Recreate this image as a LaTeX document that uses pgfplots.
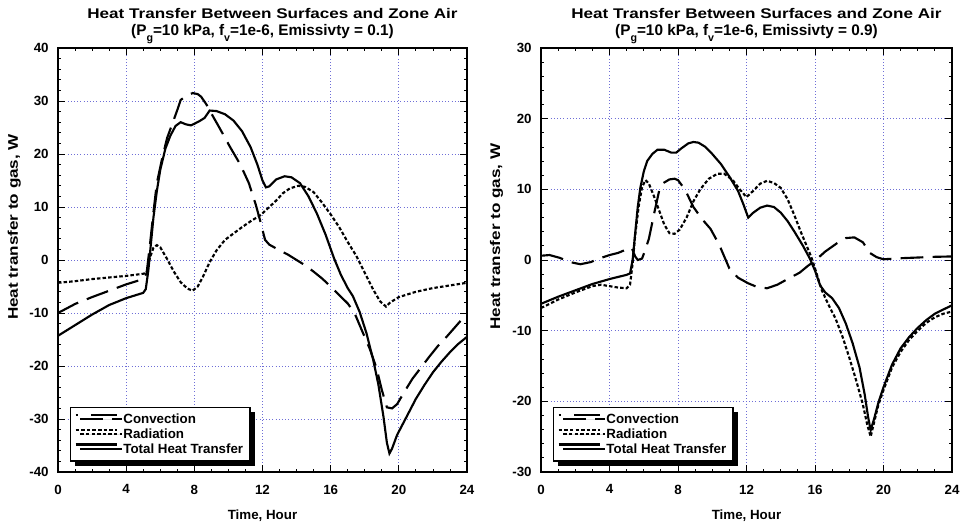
\documentclass[border=0pt]{standalone}
\usepackage{pgfplots}
\pgfplotsset{compat=1.18}
\usepackage{fontspec}
\setmainfont[FakeStretch=1.22]{Liberation Sans}
\newfontfamily\plainsans{Liberation Sans}
\usetikzlibrary{shadows}
\definecolor{gridblue}{RGB}{110,110,215}
\newcommand{\sub}[1]{\raisebox{-4.5pt}{\fontsize{8}{8}\selectfont #1}}
\newcommand{\heattitle}[1]{\hspace*{15pt}Heat Transfer Between Surfaces and Zone Air\\
  {\plainsans\fontsize{11.5}{12.5}\selectfont\bfseries (P\sub{g}=10 kPa, f\sub{v}=1e-6, Emissivty = #1)}}

\pgfplotsset{
  heatax/.style={
    scale only axis,
    anchor=south west,
    height=318pt,
    xmin=0, xmax=24,
    xtick={0,4,...,24},
    minor x tick num=3,
    minor y tick num=4,
    tick pos=both,
    tick align=inside,
    major tick length=5pt,
    minor tick length=2.5pt,
    every tick/.style={black, line width=0.6pt},
    axis line style={line width=1.1pt},
    grid=major,
    major grid style={gridblue, dotted, line width=0.7pt},
    font=\fontsize{10.5}{12}\selectfont\bfseries,
    /pgf/number format/assume math mode=true,
    ticklabel style={font=\plainsans\fontsize{10}{12}\selectfont\bfseries},
    xticklabel style={yshift=-6pt},
    yticklabel style={xshift=-3.5pt},
    title style={align=center, font=\fontsize{10.5}{12.5}\selectfont\bfseries, yshift=-6pt},
    xlabel={Time, Hour},
    ylabel={Heat transfer to gas, W},
    xlabel style={yshift=-5pt, font=\plainsans\fontsize{10}{12}\selectfont\bfseries},
    legend cell align=left,
    legend style={
      at={(rel axis cs:0.029,0.024)}, anchor=south west,
      draw=black, line width=1.1pt, fill=white,
      font=\plainsans\fontsize{10}{11}\selectfont\bfseries,
      inner xsep=3pt, inner ysep=2.5pt, row sep=-1.6pt,
      drop shadow={shadow xshift=3.5pt, shadow yshift=-3.5pt, opacity=1, fill=black},
    },
    legend image code/.code={\draw[#1] (0pt,3.6pt) -- (31pt,3.6pt); \path (33pt,3.6pt);},
  },
  conv/.style={black, line width=1.6pt, dash pattern=on 17pt off 7pt,
    legend image code/.code={\draw[#1, dash pattern=on 1.5pt off 10pt on 20pt off 60pt] (0pt,3.6pt) -- (31pt,3.6pt); \path (33pt,3.6pt);}},
  rad/.style={black, line width=1.6pt, dash pattern=on 2.6pt off 1.6pt},
  tot/.style={black, line width=1.6pt},
}

\begin{document}
\begin{tikzpicture}
\path[use as bounding box] (0,0) rectangle (720.75pt,397.5pt);

% left: emissivity 0.1
\begin{axis}[heatax,
  at={(43.5pt,43.5pt)},
  width=306.75pt,
  ymin=-40, ymax=40,
  ytick={-40,-30,...,40},
  ylabel style={at={(ticklabel cs:0.578)}, yshift=-0.5pt},
  title={\heattitle{0.1}},
]
\addplot[conv] coordinates {
(0,-10.0) (1,-8.3) (2,-7.0) (3,-5.8) (4,-4.6) (5,-3.6) (5.2,-2.5) (5.4,3) (5.6,9)
(5.8,14.5) (6.1,19) (6.4,23) (6.8,26.5) (7.0,28.3) (7.2,30.2) (7.5,30.9) (7.9,31.5)
(8.2,31.3) (8.4,30.8) (8.7,29.4) (8.9,28.2) (9.5,24.8) (10.1,21.3) (10.7,18.0)
(11.2,14.5) (11.6,10.5) (11.9,7) (12.15,3.8) (12.4,2.9) (12.9,2.0) (13.5,1.0)
(14.0,0.0) (14.5,-1.0) (15.0,-2.2) (15.5,-3.5) (16.0,-5.0) (16.5,-6.6) (17.0,-8.2)
(17.4,-10) (17.9,-13.8) (18.3,-16.8) (18.7,-20.5) (19.0,-24.5) (19.3,-27.8)
(19.6,-28.0) (19.9,-27.2) (20.3,-25) (20.8,-22.4) (21.3,-20.3) (21.8,-18.2)
(22.3,-16.2) (22.8,-14.5) (23.4,-12.3) (24,-10.1)
};
\addlegendentry{Convection}
\addplot[rad] coordinates {
(0,-4.3) (1,-4.0) (2,-3.6) (3,-3.3) (4,-3.0) (5,-2.6) (5.2,-2.4) (5.4,0.5) (5.6,2.3)
(5.8,2.8) (6.0,2.4) (6.4,0.2) (6.8,-2.2) (7.2,-4.2) (7.6,-5.4) (7.9,-5.8) (8.2,-5.0)
(8.5,-3.2) (8.9,-0.4) (9.3,1.8) (9.8,3.8) (10.3,5.0) (10.8,6.2) (11.3,7.3) (11.9,8.5)
(12.4,10.0) (12.8,11.2) (13.2,12.6) (13.6,13.5) (14.1,14.0) (14.5,13.8) (15.0,12.8)
(15.5,10.8) (16.0,8.6) (16.5,6.2) (17.0,3.4) (17.5,0.8) (18.0,-2.4) (18.5,-5.6)
(18.9,-7.8) (19.25,-8.8) (19.5,-8.0) (20.0,-7.0) (21.0,-6.0) (22.0,-5.3) (23.0,-4.8)
(24.0,-4.3)
};
\addlegendentry{Radiation}
\addplot[tot] coordinates {
(0,-14.3) (1,-12.3) (2,-10.3) (3,-8.5) (4,-7.2) (5,-6.2) (5.15,-5.5) (5.3,-2) (5.45,3)
(5.6,8) (5.8,13) (6.0,17) (6.3,21) (6.6,23.5) (6.9,25.3) (7.2,26) (7.5,25.6) (7.8,25.4)
(8.0,25.7) (8.3,26.2) (8.6,26.8) (8.9,28.2) (9.3,28.1) (9.8,27.5) (10.3,26.3)
(10.8,24.3) (11.3,21.3) (11.7,18) (12.0,15) (12.2,13.7) (12.4,13.9) (12.8,15.2)
(13.3,15.8) (13.7,15.6) (14.2,14.5) (14.7,12) (15.2,8.7) (15.7,4.8) (16.2,0.3)
(16.6,-2.8) (17.0,-5.3) (17.3,-6.8) (17.7,-9.8) (18.1,-13.8) (18.5,-18.9) (18.8,-23.5)
(19.1,-29.6) (19.3,-34.5) (19.45,-36.5) (19.6,-35.6) (19.9,-33) (20.5,-29.3)
(21.0,-26.2) (21.5,-23.6) (22.0,-21.2) (22.5,-19.2) (23.0,-17.4) (23.5,-15.8) (24,-14.5)
};
\addlegendentry{Total Heat Transfer}
\end{axis}

% right: emissivity 0.9
\begin{axis}[heatax,
  at={(405.75pt,43.5pt)},
  width=308.25pt,
  ymin=-30, ymax=30,
  ytick={-30,-20,...,30},
  ylabel style={at={(ticklabel cs:0.555)}},
  title={\heattitle{0.9}},
]
\addplot[conv] coordinates {
(0,0.6) (0.5,0.7) (1.1,0.3) (1.7,-0.3) (2.3,-0.6) (2.9,-0.3) (3.4,0.2) (4.0,0.7)
(4.5,1.0) (5.0,1.5) (5.3,1.7) (5.5,0.5) (5.65,0.0) (5.9,0.2) (6.1,1.5) (6.3,3.0)
(6.6,6.5) (6.9,9.8) (7.15,10.9) (7.5,11.4) (7.8,11.5) (8.0,11.3) (8.4,10.0) (8.9,7.5)
(9.4,5.8) (9.9,4.4) (10.4,2.2) (11.0,-1.2) (11.5,-2.5) (12.1,-3.3) (12.6,-3.8)
(13.2,-4.0) (13.8,-3.5) (14.4,-2.7) (15.1,-1.8) (15.6,-0.8) (16.0,-0.1) (16.6,1.2)
(17.3,2.4) (17.8,3.1) (18.3,3.2) (18.8,2.5) (19.2,1.0) (19.6,0.4) (20.0,0.1)
(21.0,0.25) (22.0,0.35) (23.0,0.45) (24.0,0.5)
};
\addlegendentry{Convection}
\addplot[rad] coordinates {
(0,-6.8) (1,-5.6) (2,-4.6) (3,-3.7) (3.5,-3.5) (4.0,-3.7) (4.5,-3.9) (5.0,-4.0)
(5.2,-3.5) (5.35,-0.5) (5.5,3.5) (5.7,7.5) (5.9,10.3) (6.1,11.3) (6.3,10.8) (6.6,9)
(6.9,7) (7.2,5.0) (7.5,3.8) (7.8,3.7) (8.1,4.3) (8.5,6.0) (8.9,8.3) (9.3,10.0)
(9.8,11.5) (10.3,12.2) (10.7,12.2) (11.2,11.3) (11.6,10.0) (12.0,8.9) (12.4,9.8)
(12.8,10.8) (13.2,11.2) (13.6,10.9) (14.0,10.2) (14.4,8.6) (14.8,6.3) (15.2,3.8)
(15.6,1.5) (15.8,0.3) (16.0,-1.2) (16.4,-4.3) (16.8,-6.4) (17.2,-8.3) (17.6,-10.8)
(18.0,-13.8) (18.4,-17.0) (18.8,-20.5) (19.05,-23.3) (19.25,-25.0) (19.45,-23.0)
(19.7,-20.5) (20.0,-18.4) (20.5,-15.2) (21.0,-13.0) (21.5,-11.3) (22.0,-10.0)
(22.5,-8.9) (23.0,-8.1) (23.5,-7.6) (24,-7.3)
};
\addlegendentry{Radiation}
\addplot[tot] coordinates {
(0,-6.2) (1,-5.2) (2,-4.3) (3,-3.4) (4,-2.7) (5,-2.1) (5.2,-1.9) (5.35,0) (5.5,3.8)
(5.65,7.5) (5.8,10.2) (6.0,12.5) (6.2,14.0) (6.5,15.0) (6.8,15.6) (7.2,15.6)
(7.6,15.2) (7.9,15.2) (8.2,15.8) (8.6,16.5) (8.9,16.7) (9.2,16.6) (9.6,16.0)
(10.0,15.0) (10.5,13.6) (11.0,11.8) (11.5,9.8) (11.8,8.0) (12.1,6.0) (12.4,6.7)
(12.8,7.4) (13.2,7.7) (13.6,7.5) (14.0,6.7) (14.4,5.5) (14.8,4.0) (15.3,2.0)
(15.7,0.2) (16.0,-1.5) (16.3,-3.6) (16.6,-4.6) (17.0,-5.4) (17.4,-6.8) (17.8,-9.0)
(18.2,-11.8) (18.6,-15.2) (18.9,-19.0) (19.1,-22.2) (19.25,-24.1) (19.45,-22.5)
(19.7,-20.2) (20.0,-18.0) (20.5,-14.8) (21.0,-12.5) (21.5,-10.9) (22.0,-9.6)
(22.5,-8.5) (23.0,-7.6) (23.5,-7.0) (24,-6.4)
};
\addlegendentry{Total Heat Transfer}
\end{axis}
\end{tikzpicture}
\end{document}
